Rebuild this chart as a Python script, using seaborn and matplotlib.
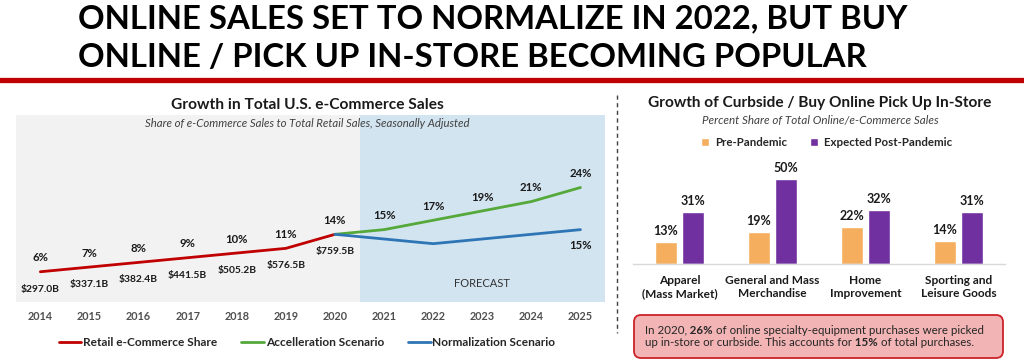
import matplotlib
matplotlib.use("Agg")
import matplotlib.pyplot as plt
from matplotlib.lines import Line2D
from matplotlib.patches import FancyBboxPatch
from matplotlib.transforms import IdentityTransform
import pandas as pd
import seaborn as sns

sns.set_theme(style="white")
plt.rcParams["font.family"] = ["Lato", "DejaVu Sans"]

W, H = 1024, 364

# --- left chart: e-commerce share of retail sales
years = list(range(2014, 2026))
retail_years = [2014, 2015, 2016, 2017, 2018, 2019, 2020]
retail_share = [6, 7, 8, 9, 10, 11, 14]
retail_sales = ["$297.0B", "$337.1B", "$382.4B", "$441.5B",
                "$505.2B", "$576.5B", "$759.5B"]
forecast_years = [2020, 2021, 2022, 2023, 2024, 2025]
accel_share = [14, 15, 17, 19, 21, 24]
norm_share = [14, 13, 12, 13, 14, 15]

# --- right chart: curbside / BOPIS share
categories = ["Apparel\n(Mass Market)", "General and Mass\nMerchandise",
              "Home\nImprovement", "Sporting and\nLeisure Goods"]
pre_pandemic = [13, 19, 22, 14]
post_pandemic = [31, 50, 32, 31]

line_colors = {"Retail e-Commerce Share": "#C00000",
               "Accelleration Scenario": "#55A83A",
               "Normalization Scenario": "#2E75B6"}
bar_colors = {"Pre-Pandemic": "#F5AE5E",
              "Expected Post-Pandemic": "#7030A0"}


def px(x, y):
    return x / W, 1 - y / H


fig = plt.figure(figsize=(W / 100, H / 100), dpi=100)
renderer = fig.canvas.get_renderer()

# headline, fitted to the width of the original
head1 = fig.text(*px(78, 28), "ONLINE SALES SET TO NORMALIZE IN 2022, BUT BUY",
                 fontsize=24, weight="bold", color="black", va="baseline")
size = 24 * 830 / head1.get_window_extent(renderer).width
head1.set_fontsize(size)
fig.text(*px(78, 67), "ONLINE / PICK UP IN-STORE BECOMING POPULAR",
         fontsize=size, weight="bold", color="black", va="baseline")
fig.add_artist(Line2D([0, 1], [1 - 80 / H] * 2, color="#C00000", lw=3.8))

# ---------------- left: line chart
lines = pd.concat([
    pd.DataFrame({"year": retail_years, "share": retail_share,
                  "series": "Retail e-Commerce Share"}),
    pd.DataFrame({"year": forecast_years, "share": accel_share,
                  "series": "Accelleration Scenario"}),
    pd.DataFrame({"year": forecast_years, "share": norm_share,
                  "series": "Normalization Scenario"}),
])

ax1 = fig.add_axes([15.8 / W, 1 - 301.7 / H, (605 - 15.8) / W, (301.7 - 115) / H])
ax1.axvspan(2013.5, 2020.5, color="#F2F2F2", lw=0, zorder=0)
ax1.axvspan(2020.5, 2025.5, color="#D2E4F0", lw=0, zorder=0)
sns.lineplot(data=lines, x="year", y="share", hue="series",
             palette=line_colors, lw=2, ax=ax1)
ax1.set_xlim(2013.5, 2025.5)
ax1.set_ylim(-0.4, 39.5)
ax1.set_xticks(years)
ax1.set_xticklabels([str(y) for y in years], fontsize=7.8,
                    weight="bold", color="#505050")
ax1.tick_params(axis="x", length=0, pad=6.5)
ax1.set_yticks([])
ax1.set(xlabel="", ylabel="")
for s in ax1.spines.values():
    s.set_visible(False)

lab = dict(ha="center", va="center", fontsize=8.2, weight="bold",
           color="#1a1a1a", textcoords="offset points")
for yr, v, s in zip(retail_years, retail_share, retail_sales):
    ax1.annotate(f"{v}%", (yr, v), xytext=(0, 10), **lab)
    ax1.annotate(s, (yr, v), xytext=(0, -12.5), **{**lab, "fontsize": 7.4})
for yr, v in zip(forecast_years[1:], accel_share[1:]):
    ax1.annotate(f"{v}%", (yr, v), xytext=(0, 10), **lab)
ax1.annotate(f"{norm_share[-1]}%", (forecast_years[-1], norm_share[-1]),
             xytext=(0, -11.5), **lab)
ax1.text(2023, 0.095, "FORECAST", transform=ax1.get_xaxis_transform(),
         ha="center", va="center", fontsize=8, color="#333333")

leg = ax1.get_legend()
handles = leg.legend_handles
labels = [t.get_text() for t in leg.get_texts()]
leg.remove()
fig.legend(handles, labels, loc="center", bbox_to_anchor=px(307, 343),
           ncol=3, frameon=False, prop=dict(weight="bold", size=8.6),
           handlelength=1.9, handletextpad=0.15, columnspacing=2.0)

fig.text(*px(307, 105), "Growth in Total U.S. e-Commerce Sales",
         ha="center", va="center", fontsize=11.2, weight="bold", color="#1a1a1a")
fig.text(*px(307, 123.3),
         "Share of e-Commerce Sales to Total Retail Sales, Seasonally Adjusted",
         ha="center", va="center", fontsize=8.2, style="italic", color="#404040")

# separator
fig.add_artist(Line2D([617 / W] * 2, [1 - 95 / H, 1 - 333 / H],
                      ls=(0, (3, 2.5)), color="#404040", lw=1))

# ---------------- right: grouped bars
bars = pd.DataFrame({
    "category": categories * 2,
    "share": pre_pandemic + post_pandemic,
    "period": ["Pre-Pandemic"] * 4 + ["Expected Post-Pandemic"] * 4,
})
ax2 = fig.add_axes([633 / W, 1 - 264.3 / H, (1005 - 633) / W, 102 / H])
sns.barplot(data=bars, x="category", y="share", hue="period",
            palette=bar_colors, saturation=1, width=0.58, gap=0.22, ax=ax2)
ax2.set_xlim(-0.5, 3.5)
ax2.set_ylim(0, 60)
for cont, vals in zip(ax2.containers, [pre_pandemic, post_pandemic]):
    ax2.bar_label(cont, labels=[f"{v}%" for v in vals], padding=3.5,
                  fontsize=9, weight="bold", color="#1a1a1a")
ax2.set_yticks([])
ax2.set(xlabel="", ylabel="")
ax2.tick_params(axis="x", length=0, pad=8)
for t in ax2.get_xticklabels():
    t.set_fontsize(8.6)
    t.set_weight("bold")
    t.set_color("#1a1a1a")
for k in ["top", "left", "right"]:
    ax2.spines[k].set_visible(False)
ax2.spines["bottom"].set_color("#D9D9D9")
ax2.spines["bottom"].set_linewidth(1)

leg = ax2.get_legend()
handles = leg.legend_handles
labels = [t.get_text() for t in leg.get_texts()]
leg.remove()
fig.legend(handles, labels, loc="center", bbox_to_anchor=px(826.5, 143),
           ncol=2, frameon=False, prop=dict(weight="bold", size=8.3),
           handlelength=0.7, handleheight=0.7, handletextpad=0.5,
           columnspacing=2.0)

fig.text(*px(820, 103), "Growth of Curbside / Buy Online Pick Up In-Store",
         ha="center", va="center", fontsize=11.1, weight="bold", color="#1a1a1a")
fig.text(*px(820, 120.7), "Percent Share of Total Online/e-Commerce Sales",
         ha="center", va="center", fontsize=8.4, style="italic", color="#404040")

# callout box
fig.add_artist(FancyBboxPatch((634, H - 358), 369, 43,
                              boxstyle="round,pad=0,rounding_size=7",
                              transform=IdentityTransform(),
                              facecolor="#F2B4B4", edgecolor="#CC2229", lw=1.3))
box_lines = [
    (330, [("In 2020,", "normal"), (" 26%", "bold"),
           (" of online specialty-equipment purchases were picked", "normal")]),
    (343, [("up in-store or curbside. This accounts for", "normal"),
           (" 15%", "bold"), (" of total purchases.", "normal")]),
]
for yy, segs in box_lines:
    x = 645
    for txt, wt in segs:
        t = fig.text(*px(x, yy), txt, fontsize=8.3, weight=wt,
                     va="center", ha="left", color="#262626")
        x += t.get_window_extent(renderer).width

fig.savefig("out.png", dpi=100)
